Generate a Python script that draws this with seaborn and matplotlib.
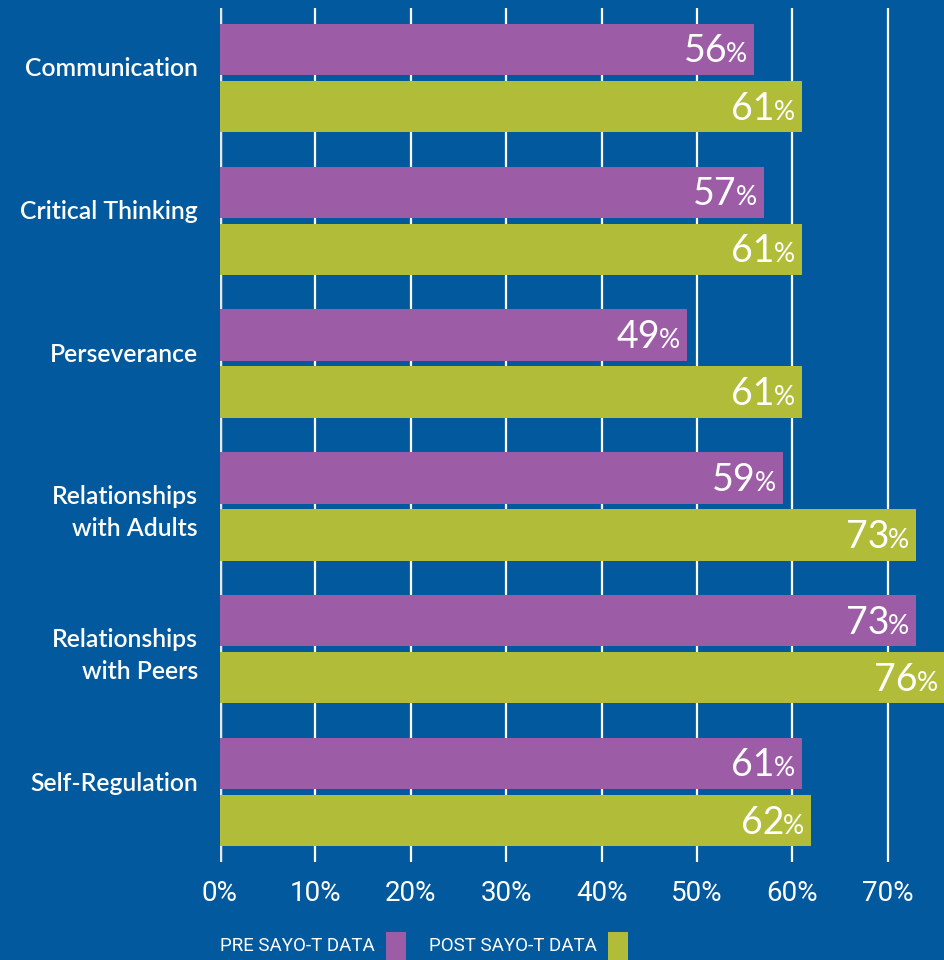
import pandas as pd
import numpy as np
import matplotlib.pyplot as plt
import seaborn as sns
from matplotlib.patches import Rectangle
from matplotlib.transforms import offset_copy

# Data
skills = ['Communication', 'Critical Thinking', 'Perseverance',
          'Relationships\nwith Adults', 'Relationships\nwith Peers', 'Self-Regulation']
pre_vals = [56, 57, 49, 59, 73, 61]
post_vals = [61, 61, 61, 73, 76, 62]
phases = ['PRE SAYO-T DATA', 'POST SAYO-T DATA']
x_ticks = [0, 10, 20, 30, 40, 50, 60, 70]

bg = '#02599D'
purple = '#9C5DA6'
green = '#B1BC38'
narrow = ['Liberation Sans Narrow', 'Roboto', 'DejaVu Sans']

df = pd.DataFrame({
    'skill': skills * 2,
    'value': pre_vals + post_vals,
    'phase': [phases[0]] * len(skills) + [phases[1]] * len(skills),
})

sns.set_theme(style='white')
plt.rcParams['font.family'] = ['Lato', 'DejaVu Sans']

fig = plt.figure(figsize=(9.45, 9.6), dpi=100, facecolor=bg)
ax = fig.add_axes([220 / 945, 98 / 960, 725 / 945, 854 / 960])
ax.set_facecolor(bg)

sns.barplot(data=df, y='skill', x='value', hue='phase', orient='h',
            palette=[purple, green], gap=0.1, width=0.8, saturation=1,
            linewidth=0, legend=False, ax=ax, zorder=3)

ax.set_xlim(0, 76)
ax.set_ylim(5.49, -0.49)
ax.set_xticks(x_ticks)
ax.set_xticklabels([f'{t}%' for t in x_ticks], family=narrow,
                   fontsize=20, color='white')
ax.tick_params(axis='x', length=0, pad=13)
ax.tick_params(axis='y', length=0, pad=16, labelsize=17.8, labelcolor='white')
for lbl in ax.get_yticklabels():
    lbl.set_fontweight('semibold')
    lbl.set_horizontalalignment('right')
    lbl.set_linespacing(1.45)
    if '\n' not in lbl.get_text():
        lbl.set_transform(offset_copy(lbl.get_transform(), fig=fig, y=11, units='dots'))
ax.set_xlabel('')
ax.set_ylabel('')
ax.grid(axis='x', color='white', linewidth=1.6, zorder=0)
ax.grid(axis='y', visible=False)
for s in ax.spines.values():
    s.set_visible(False)
ax.axvline(0, color='#E8E8E8', linewidth=2.5, zorder=1)

# value labels: big number + smaller %
fig.canvas.draw()
renderer = fig.canvas.get_renderer()
for cont in ax.containers:
    for bar in cont:
        v = bar.get_width()
        yc = bar.get_y() + bar.get_height() / 2
        pct = ax.annotate('%', (v, yc), xytext=(-7, -13), textcoords='offset pixels',
                          ha='right', va='baseline', color='white', fontsize=19,
                          zorder=5, annotation_clip=False)
        w = pct.get_window_extent(renderer).width
        ax.annotate(f'{int(v)}', (v, yc), xytext=(-7 - w + 1, -13),
                    textcoords='offset pixels', ha='right', va='baseline',
                    color='white', fontsize=27, zorder=5, annotation_clip=False)

# legend along the bottom: label then colour square
x = 220
for name, col in zip(phases, [purple, green]):
    t = fig.text(x / 945, 1 - 946 / 960, name, ha='left', va='center', color='white',
                 family=narrow, fontsize=13.5)
    w = t.get_window_extent(renderer).width
    rx = x + w + 11
    fig.add_artist(Rectangle((rx / 945, 0), 20 / 945, 28 / 960,
                             transform=fig.transFigure, facecolor=col, edgecolor='none'))
    x = rx + 20 + 23

fig.savefig('out.png', dpi=100, facecolor=bg)
